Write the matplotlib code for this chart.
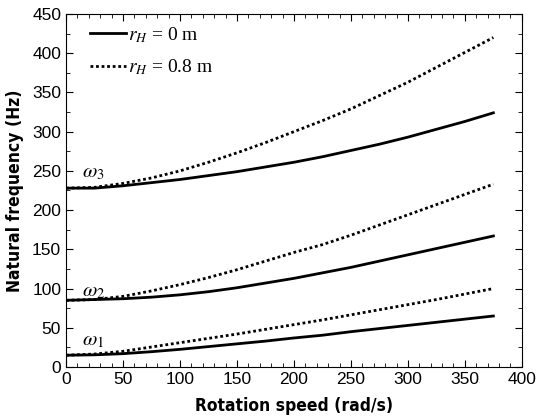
import matplotlib
matplotlib.use("Agg")
import matplotlib.pyplot as plt
from matplotlib.ticker import MultipleLocator

speed = [0, 25, 50, 75, 100, 125, 150, 175, 200, 225, 250, 275, 300, 325, 350, 375]
w1_r0 = [15, 15.5, 17, 19.5, 22.5, 26, 29.5, 33, 37, 40.5, 45, 49, 53, 57, 61, 65]
w1_r08 = [15, 16.5, 20, 25.5, 31, 36.5, 42, 48, 54, 60, 66.5, 73, 79.5, 86, 93, 100]
w2_r0 = [85, 86, 87, 89, 92, 96, 101, 107, 113, 120, 127, 135, 143, 151, 159, 167]
w2_r08 = [85, 86, 90, 97, 105, 114, 124, 135, 146, 156, 168, 181, 194, 207, 220, 233]
w3_r0 = [228, 228, 231, 235, 239, 244, 249, 255, 261, 268, 276, 284, 293, 303, 313, 324]
w3_r08 = [228, 229, 234, 241, 250, 261, 273, 286, 300, 314, 329, 346, 363, 382, 401, 420]

plt.rcParams['mathtext.fontset'] = 'stix'
fig = plt.figure(figsize=(5.38, 4.20), dpi=100)
ax = fig.add_axes([0.1227, 0.1262, 0.8473, 0.8405])

lw = 2.0
ax.plot(speed, w1_r0, color='black', lw=lw, label=r'$r_H$ = 0 m')
ax.plot(speed, w1_r08, color='black', lw=lw, ls=(0, (1, 1)), label=r'$r_H$ = 0.8 m')
ax.plot(speed, w2_r0, color='black', lw=lw)
ax.plot(speed, w2_r08, color='black', lw=lw, ls=(0, (1, 1)))
ax.plot(speed, w3_r0, color='black', lw=lw)
ax.plot(speed, w3_r08, color='black', lw=lw, ls=(0, (1, 1)))

ax.text(14, 249, r'$\omega_3$', fontsize=15, va='center')
ax.text(14, 97, r'$\omega_2$', fontsize=15, va='center')
ax.text(14, 34, r'$\omega_1$', fontsize=15, va='center')

ax.set_xlim(0, 400)
ax.set_ylim(0, 450)
ax.xaxis.set_major_locator(MultipleLocator(50))
ax.xaxis.set_minor_locator(MultipleLocator(10))
ax.yaxis.set_major_locator(MultipleLocator(50))
ax.yaxis.set_minor_locator(MultipleLocator(25))
ax.tick_params(which='both', direction='in', top=True, right=True)
ax.tick_params(which='major', length=5, labelsize=12.5)
ax.tick_params(which='minor', length=3)
for lab in ax.get_xticklabels() + ax.get_yticklabels():
    lab.set_family(['Liberation Sans', 'DejaVu Sans'])

lbl_font = dict(family=['DejaVu Sans'], stretch='condensed', weight='bold', fontsize=12.5)
ax.set_xlabel('Rotation speed (rad/s)', labelpad=7, **lbl_font)
ax.set_ylabel('Natural frequency (Hz)', labelpad=6, **lbl_font)

leg = ax.legend(loc='upper left', bbox_to_anchor=(0.035, 0.99), frameon=False,
                handlelength=1.85, handletextpad=0.1, fontsize=14, labelspacing=0.65,
                borderaxespad=0.0)
for t in leg.get_texts():
    t.set_family(['Liberation Serif', 'DejaVu Serif'])

fig.savefig('out.png', dpi=100)
